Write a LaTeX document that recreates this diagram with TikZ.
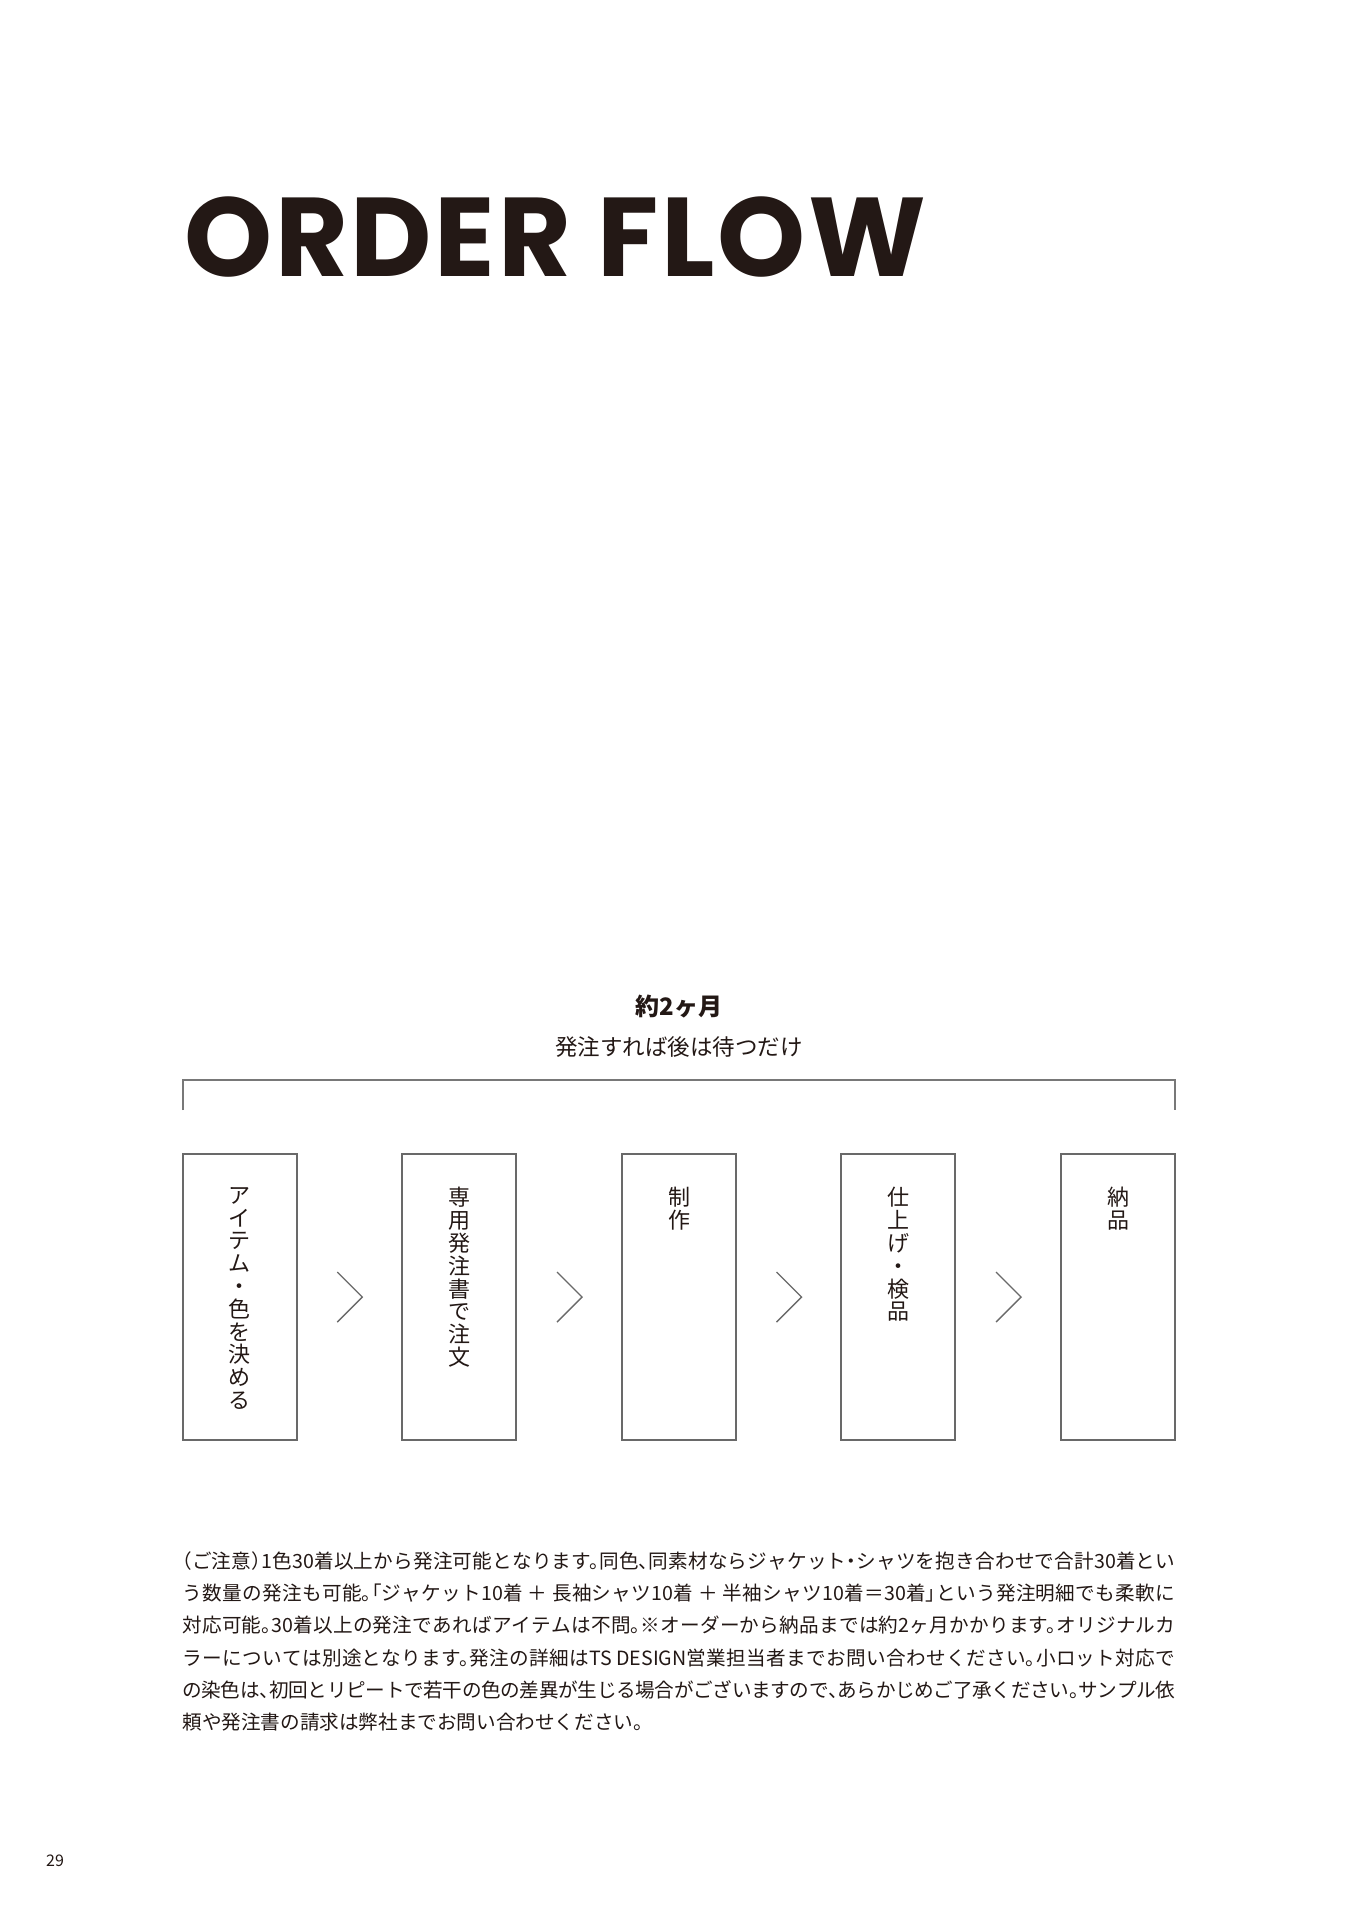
\documentclass[tikz,border=0pt]{standalone}
\usepackage{fontspec}
\setmainfont{Noto Sans CJK JP}
\newfontfamily\titlefont{Poppins}[LetterSpace=2.4]
\newfontfamily\bodyfont{Noto Sans CJK JP}[RawFeature=+halt]
\XeTeXlinebreaklocale "ja"
\XeTeXlinebreakskip=0pt plus 2pt minus 1pt
\lineskiplimit=-20pt
\usetikzlibrary{calc,positioning}

\definecolor{inkblack}{RGB}{35,24,21}
\definecolor{framegray}{RGB}{105,105,105}
\definecolor{bracketgray}{RGB}{120,120,120}

\tikzset{
  flowbox/.style={draw=framegray,line width=1pt,minimum width=57pt,minimum height=143pt,inner sep=0pt},
  tatetext/.style={align=center,inner sep=0pt,text=inkblack,
    font=\fontsize{11pt}{11.4pt}\selectfont},
  chevron/.style={draw=framegray,line width=0.7pt},
  bracket/.style={draw=bracketgray,line width=1.2pt}
}

\begin{document}
\begin{tikzpicture}[x=0.5pt,y=-0.5pt]
\useasboundingbox (0,0) rectangle (1358,1920);
\fill[white] (0,0) rectangle (1358,1920);

% title
\node[anchor=base west,inner sep=0pt,text=inkblack,
  font=\titlefont\bfseries\fontsize{56pt}{56pt}\selectfont] (title) at (184,277) {ORDER FLOW};

% period
\node[text=inkblack,font=\bfseries\fontsize{12pt}{14pt}\selectfont] (period) at (679,1007) {約2ヶ月};
\node[text=inkblack,font=\fontsize{11.25pt}{13pt}\selectfont] (waiting) at (679,1047) {発注すれば後は待つだけ};
\draw[bracket] (183,1110) -- (183,1080) -- (1175,1080) -- (1175,1110);

% steps
\node[flowbox] (item) at (239.5,1297) {};
\node[flowbox] (order) at (459,1297) {};
\node[flowbox] (make) at (679,1297) {};
\node[flowbox] (finish) at (898,1297) {};
\node[flowbox] (deliver) at (1118,1297) {};

\node[tatetext,below=17pt of item.north] (itemtext) {ア\\イ\\テ\\ム\\・\\色\\を\\決\\め\\る};
\node[tatetext,below=17pt of order.north] (ordertext) {専\\用\\発\\注\\書\\で\\注\\文};
\node[tatetext,below=17pt of make.north] (maketext) {制\\作};
\node[tatetext,below=17pt of finish.north] (finishtext) {仕\\上\\げ\\・\\検\\品};
\node[tatetext,below=17pt of deliver.north] (delivertext) {納\\品};

\foreach \a/\b in {item/order,order/make,make/finish,finish/deliver}{
  \coordinate (mid) at ($(\a.east)!0.5!(\b.west)$);
  \draw[chevron] ([shift={(-12,-25)}]mid) -- ([shift={(13,0)}]mid) -- ([shift={(-12,25)}]mid);
}

% note
\node[anchor=north west,inner sep=0pt,text width=496.5pt,align=justify,text=inkblack,
  font=\bodyfont\fontsize{9.8pt}{16.15pt}\selectfont] (note) at (182,1551) {\parindent=0pt\parfillskip=0pt
（ご注意）1色30着以上から発注可能となります。同色、同素材ならジャケット・シャツを抱き合わせで合計30着とい\par
う数量の発注も可能。「ジャケット10着 ＋ 長袖シャツ10着 ＋ 半袖シャツ10着＝30着」という発注明細でも柔軟に\par
対応可能。30着以上の発注であればアイテムは不問。※オーダーから納品までは約2ヶ月かかります。オリジナルカ\par
ラーについては別途となります。発注の詳細はTS DESIGN営業担当者までお問い合わせください。小ロット対応で\par
の染色は、初回とリピートで若干の色の差異が生じる場合がございますので、あらかじめご了承ください。サンプル依\par
\parfillskip=0pt plus 1fil
頼や発注書の請求は弊社までお問い合わせください。\par};

\node[text=inkblack,font=\fontsize{8pt}{9pt}\selectfont] (pageno) at (55,1861) {29};
\end{tikzpicture}
\end{document}
